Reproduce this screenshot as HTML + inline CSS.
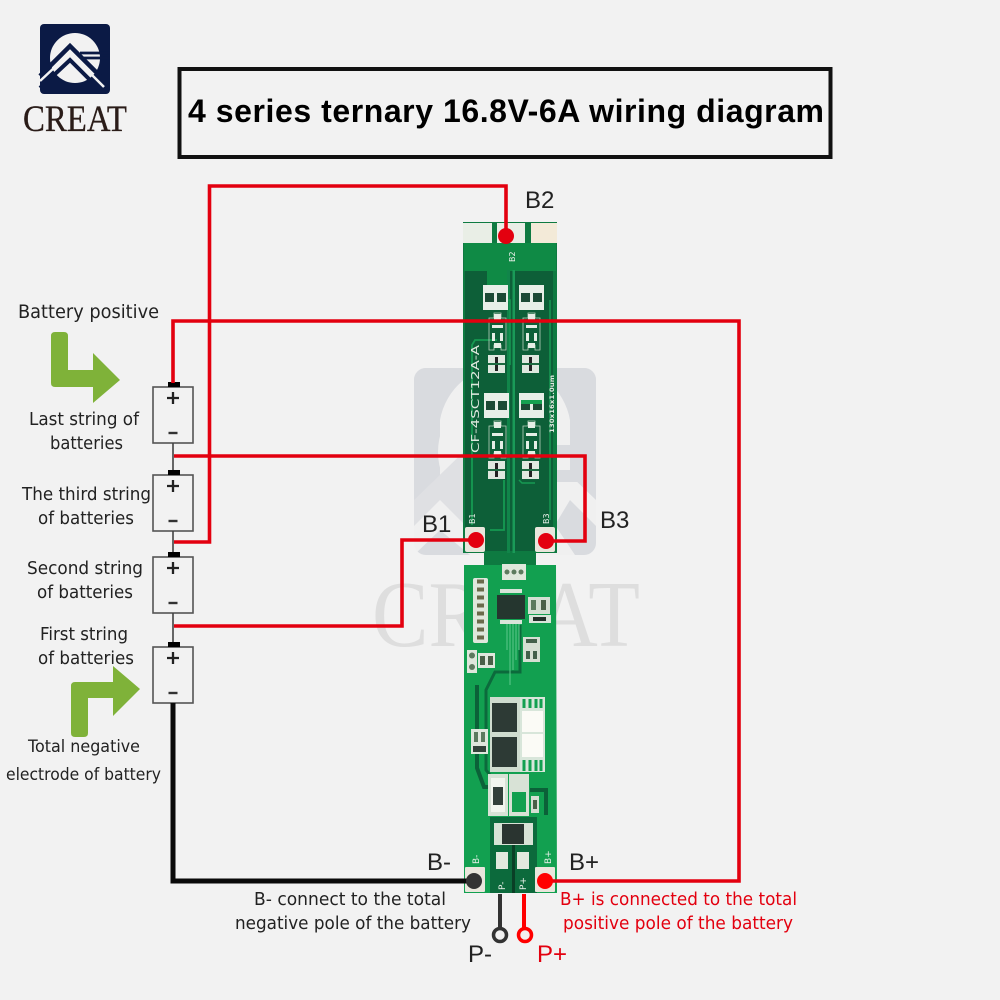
<!DOCTYPE html>
<html><head><meta charset="utf-8"><style>
html,body{margin:0;padding:0;background:#f2f2f2}
svg{display:block}
text{font-family:"DejaVu Sans","Liberation Sans",sans-serif;fill:#222}
</style></head><body>
<svg width="1000" height="1000" viewBox="0 0 1000 1000" xmlns="http://www.w3.org/2000/svg">
<defs>
<clipPath id="wm"><rect x="414" y="368" width="182" height="187" rx="12"/></clipPath>
<g id="dpad"><rect width="25" height="25" fill="#e8efe8"/><rect x="2" y="8" width="9" height="9" fill="#1c4a35"/><rect x="14" y="8" width="9" height="9" fill="#1c4a35"/></g>
<g id="spad"><rect width="17" height="18" fill="#dfe8df"/><rect x="7" y="2" width="3" height="14" fill="#222"/><rect x="0" y="8" width="17" height="2" fill="#1c6a40"/></g>
<g id="ic"><path d="M0 5H5V0H12V5H17V37H12V32H5V37H0Z" fill="none" stroke="#b9d2bd" stroke-width=".8"/><rect x="5" y="1" width="7" height="6" fill="#e5eee5"/><rect x="3" y="12" width="11" height="3" fill="#e5eee5"/><rect x="3" y="20" width="3" height="8" fill="#e5eee5"/><rect x="11" y="20" width="3" height="8" fill="#e5eee5"/><rect x="5" y="30" width="7" height="5" fill="#e5eee5"/></g>
<g id="bat"><rect x="153" y="0" width="40" height="56" fill="none" stroke="#555" stroke-width="1.600"/><rect x="168" y="-5" width="12" height="5" fill="#000"/><path d="M173 5V17M167 11H179" stroke="#222" stroke-width="2.300"/><path d="M168.500 46H177.500" stroke="#333" stroke-width="2.400"/></g>
</defs>

<!-- watermark -->
<g clip-path="url(#wm)">
<path d="M414 368H596V555H414Z" fill="#f0f0f0"/>
<path d="M414 368H596V500L570 475V420A66 66 0 0 0 440 420V492L414 510Z" fill="#d9dbdf"/>
<path d="M438 420A66 66 0 0 1 570 420H596V368H414V490H438Z" fill="#d9dbdf"/>
<circle cx="504" cy="452" r="66" fill="#f0f0f0"/>
<path d="M414 500L478 438L500 458L480 478L500 498L470 530L440 500L414 526Z" fill="#dfe0e3"/>
<path d="M440 530L470 555H414ZM520 445H596V456H530ZM536 470H596V482H548ZM570 500L596 526V555H575L555 525Z" fill="#d9dbdf"/>
</g>
<text x="372" y="646" font-size="94" textLength="268" lengthAdjust="spacingAndGlyphs" style="font-family:'Liberation Serif',serif;fill:#dedede">CREAT</text>

<!-- logo -->
<rect x="40" y="24" width="70" height="70" rx="4" fill="#0b1a45"/>
<circle cx="75" cy="58" r="25" fill="#f2f2f2"/>
<path d="M40 76L70 46L108 84" fill="none" stroke="#0b1a45" stroke-width="4.500"/>
<path d="M40 88L70 60L100 90" fill="none" stroke="#0b1a45" stroke-width="4"/>
<path d="M40 81L70 53L104 87" fill="none" stroke="#f2f2f2" stroke-width="2.500"/>
<path d="M80 53H110M84 58H110" stroke="#0b1a45" stroke-width="2.800"/>
<text x="23" y="131" font-size="37" textLength="104" lengthAdjust="spacingAndGlyphs" style="font-family:'Liberation Serif',serif;fill:#2a1c18;stroke:#2a1c18;stroke-width:.3">CREAT</text>

<!-- title -->
<rect x="179.500" y="69" width="651" height="88" fill="none" stroke="#111" stroke-width="4"/>
<text x="188" y="122" font-size="32" font-weight="700" textLength="636" lengthAdjust="spacing" style="font-family:'Liberation Sans',sans-serif;fill:#000">4 series ternary 16.8V-6A wiring diagram</text>

<!-- board upper -->
<path d="M463 222H557V553H536V565H484V553H463Z" fill="#0e7a41"/>
<rect x="465" y="271" width="88" height="280" fill="#0d5f38"/>
<rect x="464" y="243" width="92" height="28" fill="#0f8a45"/>
<rect x="487" y="270" width="20" height="16" fill="#0f8a45"/>
<rect x="463" y="223" width="29" height="20" fill="#e9eee6"/>
<rect x="497" y="223" width="28" height="20" fill="#e9eee6"/>
<rect x="531" y="223" width="26" height="20" fill="#f3ead8"/>
<rect x="507" y="270" width="3" height="290" fill="#11854a"/>
<rect x="512.500" y="270" width="2.500" height="290" fill="#1a9a58"/>
<path d="M497 340H475L472 345V525M504 480V530H490" fill="none" stroke="#169a52" stroke-width="1.800"/>
<path d="M550 300V520M519 480L522 483H535M502 300H510V365" fill="none" stroke="#169a52" stroke-width="1.500"/>
<use href="#dpad" x="483" y="285"/><use href="#dpad" x="519" y="285"/>
<use href="#dpad" x="484" y="393"/><use href="#dpad" x="519" y="393"/>
<rect x="521" y="400" width="21" height="4" fill="#15a050"/>
<use href="#spad" x="488" y="355"/><use href="#spad" x="522" y="355"/>
<use href="#spad" x="488" y="461"/><use href="#spad" x="522" y="461"/>
<use href="#ic" x="489" y="313"/><use href="#ic" x="523" y="313"/>
<use href="#ic" x="489" y="421"/><use href="#ic" x="523" y="421"/>
<text transform="translate(479 453) rotate(-90)" font-size="11" textLength="108" lengthAdjust="spacingAndGlyphs" style="fill:#dfe9df">CF-4SCT12A-A</text>
<text transform="translate(554 433) rotate(-90)" font-size="6.500" textLength="58" lengthAdjust="spacingAndGlyphs" style="fill:#dfe9df;font-weight:700">130x16x1.0um</text>
<text transform="translate(515 262) rotate(-90)" font-size="8" style="fill:#e8f0e8">B2</text>
<text transform="translate(475 524) rotate(-90)" font-size="8" style="fill:#e8f0e8">B1</text>
<text transform="translate(549 524) rotate(-90)" font-size="8" style="fill:#e8f0e8">B3</text>
<rect x="465" y="527" width="20" height="25" rx="2" fill="#e9e6dc"/>
<rect x="535" y="527" width="20" height="25" rx="2" fill="#e9e6dc"/>

<!-- board lower -->
<path d="M484 553H536V565H556L557 893H464L464 565H484Z" fill="#12a050"/>
<rect x="484" y="553" width="52" height="12" fill="#0e7a41"/>
<path d="M520 625V672H495L486 690V770L490 775" fill="none" stroke="#0c6a3c" stroke-width="3"/>
<path d="M477 685V768L484 787H488" fill="none" stroke="#0b6138" stroke-width="4"/>
<path d="M530 790H546V815" fill="none" stroke="#0b6138" stroke-width="4"/>
<rect x="490" y="817" width="47" height="76" fill="#0c6a3c"/>
<rect x="512" y="845" width="3" height="48" fill="#0a3f26"/>
<rect x="502" y="564" width="24" height="16" fill="#dfe7dc"/>
<circle cx="507" cy="572" r="2.500" fill="#5c7a5e"/><circle cx="514" cy="572" r="2.500" fill="#5c7a5e"/><circle cx="521" cy="572" r="2.500" fill="#5c7a5e"/>
<rect x="473" y="578" width="15" height="65" rx="2" fill="#dfe7dc"/>
<path d="M477 581.500h7M477 589.500h7M477 597.500h7M477 605.500h7M477 613.500h7M477 621.500h7M477 629.500h7M477 637.500h7" stroke="#6a6a4a" stroke-width="4"/>
<rect x="500" y="589" width="22" height="4" fill="#d9e4d9"/><rect x="500" y="620" width="22" height="4" fill="#d9e4d9"/>
<rect x="497" y="595" width="28" height="24" fill="#25362f"/>
<path d="M510 624V685M513 624V670M516 624V660M519 624V650M507 624V650" stroke="#5ec98c" stroke-width="1"/>
<rect x="528" y="597" width="22" height="17" fill="#d5dfd3"/>
<rect x="531" y="600" width="5" height="10" fill="#5c7a5e"/><rect x="541" y="600" width="5" height="10" fill="#4a6048"/>
<rect x="529" y="615" width="22" height="8" fill="#d9e4d9"/><rect x="533" y="617" width="13" height="4" fill="#24302a"/>
<rect x="523" y="637" width="17" height="25" fill="#d5dfd3"/>
<rect x="526" y="639" width="11" height="4" fill="#42604a"/><rect x="526" y="651" width="4" height="8" fill="#42604a"/><rect x="533" y="651" width="4" height="8" fill="#42604a"/>
<rect x="467" y="650" width="10" height="23" fill="#dfe7dc"/><circle cx="472" cy="655.500" r="3" fill="#5c7a5e"/><circle cx="472" cy="667" r="3" fill="#5c7a5e"/>
<rect x="478" y="653" width="17" height="15" fill="#dfe7dc"/><rect x="480" y="656" width="5" height="9" fill="#4a6048"/><rect x="488" y="656" width="5" height="9" fill="#4a6048"/>

<rect x="490" y="697" width="55" height="75" fill="#cfdccf"/>
<rect x="492" y="703" width="25" height="29" fill="#2d3a35"/>
<rect x="492" y="737" width="25" height="30" fill="#2d3a35"/>
<rect x="520" y="697" width="25" height="75" fill="#d8e6da"/>
<path d="M524 699V708M530 699V708M536 699V708M541 699V708M524 760V771M530 760V771M536 760V771M541 760V771" stroke="#12a050" stroke-width="3"/>
<rect x="522" y="711" width="21" height="21" fill="#fbfbf6"/><rect x="522" y="734" width="21" height="23" fill="#fbfbf6"/>
<rect x="471" y="729" width="17" height="25" fill="#dfe7dc"/><rect x="474" y="732" width="4" height="10" fill="#5c7a5e"/><rect x="481" y="732" width="4" height="10" fill="#5c7a5e"/><rect x="473" y="746" width="13" height="6" fill="#33423a"/>
<rect x="488" y="774" width="20" height="42" fill="#d8e2d6"/><rect x="491" y="778" width="14" height="34" fill="#f2f5ee"/><rect x="493" y="787" width="10" height="18" fill="#33403a"/>
<rect x="509" y="774" width="20" height="42" fill="#d8e2d6"/><rect x="512" y="792" width="14" height="20" fill="#12a050"/>
<rect x="531" y="796" width="8" height="17" fill="#d5dfd3"/><rect x="533" y="800" width="4" height="9" fill="#4a6048"/>
<rect x="494" y="823" width="39" height="22" fill="#d8e2d6"/><rect x="502" y="824" width="22" height="20" fill="#2a3430"/>
<rect x="496" y="852" width="12" height="17" fill="#e3e8de"/><rect x="517" y="852" width="12" height="17" fill="#e3e8de"/>
<text transform="translate(505 890) rotate(-90)" font-size="9" style="fill:#e8f0e8">P-</text>
<text transform="translate(526 890) rotate(-90)" font-size="9" style="fill:#e8f0e8">P+</text>
<text transform="translate(479 864) rotate(-90)" font-size="9" style="fill:#e8f0e8">B-</text>
<text transform="translate(551 864) rotate(-90)" font-size="9" style="fill:#e8f0e8">B+</text>
<rect x="465" y="867" width="20" height="25" rx="1" fill="#e9e6dc"/>
<rect x="535" y="867" width="20" height="25" rx="1" fill="#e9e6dc"/>

<!-- batteries -->
<use href="#bat" y="387"/><use href="#bat" y="475"/><use href="#bat" y="557"/><use href="#bat" y="647"/>
<path d="M173 443V470M173 531V552M173 613V642" stroke="#444" stroke-width="1.600"/>

<!-- wires -->
<g fill="none" stroke="#e3000f" stroke-width="3.600">
<path d="M506 236V186H209.500V542H174"/>
<path d="M173 383V321H739V881H545"/>
<path d="M546 541H585V456H174"/>
<path d="M475 540H402V626H174"/>
</g>
<path d="M173 703V881H474" fill="none" stroke="#0a0a0a" stroke-width="5"/>
<path d="M500 894V930" stroke="#333" stroke-width="4"/>
<circle cx="500" cy="935" r="6.500" fill="#f2f2f2" stroke="#333" stroke-width="3.500"/>
<path d="M524 894V930" stroke="#f00" stroke-width="4"/>
<circle cx="525" cy="935" r="6.500" fill="#f2f2f2" stroke="#f00" stroke-width="3.500"/>
<circle cx="506" cy="236" r="8" fill="#e3000f"/>
<circle cx="476" cy="540" r="8" fill="#e3000f"/>
<circle cx="546" cy="541" r="8" fill="#e3000f"/>
<circle cx="474" cy="881" r="8" fill="#333"/>
<circle cx="545" cy="881" r="8" fill="#f00"/>

<!-- arrows -->
<path d="M51 336Q51 332 55 332H64Q68 332 68 336V370H93V353L120 380L93 403V387H55Q51 387 51 383Z" fill="#7fb239"/>
<path d="M71 737V686Q71 682 75 682H113V666L140 689L113 716V698H88V733Q88 737 84 737H75Q71 737 71 733Z" fill="#7fb239"/>

<!-- labels -->
<g font-size="19">
<text x="18" y="318" textLength="141" lengthAdjust="spacingAndGlyphs">Battery positive</text>
<text x="29" y="425" font-size="18" textLength="110" lengthAdjust="spacingAndGlyphs">Last string of</text>
<text x="50" y="449" font-size="18" textLength="73" lengthAdjust="spacingAndGlyphs">batteries</text>
<text x="22" y="500" font-size="18" textLength="129" lengthAdjust="spacingAndGlyphs">The third string</text>
<text x="38" y="524" font-size="18" textLength="96" lengthAdjust="spacingAndGlyphs">of batteries</text>
<text x="27" y="574" font-size="18" textLength="116" lengthAdjust="spacingAndGlyphs">Second string</text>
<text x="37" y="598" font-size="18" textLength="96" lengthAdjust="spacingAndGlyphs">of batteries</text>
<text x="40" y="640" font-size="18" textLength="88" lengthAdjust="spacingAndGlyphs">First string</text>
<text x="38" y="664" font-size="18" textLength="96" lengthAdjust="spacingAndGlyphs">of batteries</text>
<text x="28" y="752" font-size="17" textLength="112" lengthAdjust="spacingAndGlyphs">Total negative</text>
<text x="6" y="780" font-size="17" textLength="155" lengthAdjust="spacingAndGlyphs">electrode of battery</text>
<text x="254" y="905" font-size="18" textLength="192" lengthAdjust="spacingAndGlyphs">B- connect to the total</text>
<text x="235" y="929" font-size="18" textLength="236" lengthAdjust="spacingAndGlyphs">negative pole of the battery</text>
<text x="560" y="905" font-size="18" textLength="237" lengthAdjust="spacingAndGlyphs" style="fill:#e3000f">B+ is connected to the total</text>
<text x="563" y="929" font-size="18" textLength="230" lengthAdjust="spacingAndGlyphs" style="fill:#e3000f">positive pole of the battery</text>
</g>
<g font-size="24" style="font-family:'Liberation Sans',sans-serif">
<text x="525" y="208" style="font-family:'Liberation Sans',sans-serif">B2</text>
<text x="422" y="532" style="font-family:'Liberation Sans',sans-serif">B1</text>
<text x="600" y="528" style="font-family:'Liberation Sans',sans-serif">B3</text>
<text x="427" y="870" style="font-family:'Liberation Sans',sans-serif">B-</text>
<text x="569" y="870" style="font-family:'Liberation Sans',sans-serif">B+</text>
<text x="468" y="962" style="font-family:'Liberation Sans',sans-serif">P-</text>
<text x="537" y="962" style="font-family:'Liberation Sans',sans-serif;fill:#e3000f">P+</text>
</g>
</svg>
</body></html>
